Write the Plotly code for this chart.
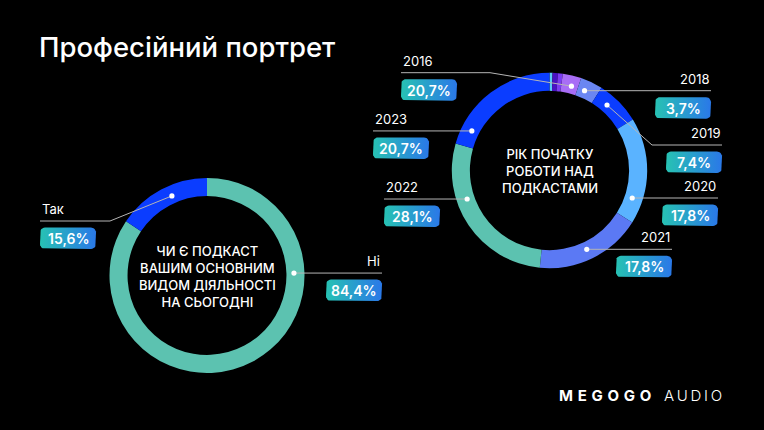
import plotly.graph_objects as go
import numpy as np

W, H = 764, 430

# чи є подкаст основним видом діяльності
main_labels = ["Ні", "Так"]
main_values = [84.4, 15.6]
main_pct = ["84,4%", "15,6%"]
main_colors = ["#5cc2b0", "#0b3dff"]

# рік початку роботи над подкастами (перші три сегменти без підпису)
start_labels = ["2014", "2015", "2017", "2016", "2018", "2019", "2020", "2021", "2022", "2023"]
start_values = [0.5, 0.9, 0.8, 3.1, 3.7, 7.4, 17.8, 17.8, 28.1, 20.7]
start_pct = ["", "", "", "20,7%", "3,7%", "7,4%", "17,8%", "17,8%", "28,1%", "20,7%"]
start_colors = ["#5ccaf7", "#4a12c4", "#7b3cf2", "#a86df6", "#6a86f2",
                "#0b3dff", "#5ab3ff", "#5b79f4", "#5cc2b0", "#0b3dff"]

HOLE = 0.815
left_c, left_r = (207, 275.5), 97.5
right_c, right_r = (549.5, 170.5), 97.7

# callouts: index, dot angle (deg from 12 o'clock), line end x, side, elbow
left_callouts = [
    (1, 336.2, 40, "left", (110, 221)),
    (0, 88.4, 382, "right", None),
]
right_callouts = [
    (3, 14.6, 401, "left", (490, 72.7)),
    (4, 23.7, 711, "right", None),
    (5, 41.3, 722, "right", (652, 145)),
    (6, 108.4, 718, "right", None),
    (7, 154.7, 672, "right", None),
    (8, 250.9, 384, "left", None),
    (9, 297.0, 373, "left", None),
]


def dom(c, r):
    return dict(x=[(c[0] - r) / W, (c[0] + r) / W],
                y=[1 - (c[1] + r) / H, 1 - (c[1] - r) / H])


def rounded_rect(x0, y0, x1, y1, r=5, n=7):
    xs, ys = [], []
    for cx, cy, a0, a1 in [(x1 - r, y0 + r, -90, 0), (x1 - r, y1 - r, 0, 90),
                           (x0 + r, y1 - r, 90, 180), (x0 + r, y0 + r, 180, 270)]:
        for a in np.linspace(a0, a1, n):
            xs.append(cx + r * np.cos(np.radians(a)))
            ys.append(cy + r * np.sin(np.radians(a)))
    xs.append(xs[0])
    ys.append(ys[0])
    return xs, ys


fig = go.Figure()

fig.add_trace(go.Pie(labels=main_labels, values=main_values, hole=HOLE, sort=False,
                     direction="clockwise", marker=dict(colors=main_colors, line=dict(width=0)),
                     textinfo="none", domain=dom(left_c, left_r), showlegend=False,
                     hoverinfo="label+percent"))
fig.add_trace(go.Pie(labels=start_labels, values=start_values, hole=HOLE, sort=False,
                     direction="clockwise", marker=dict(colors=start_colors, line=dict(width=0)),
                     textinfo="none", domain=dom(right_c, right_r), showlegend=False,
                     hoverinfo="label+percent"))

shapes, annots = [], []
font = "Inter, Noto Sans, sans-serif"


def add_callouts(callouts, labels, pct, c, r):
    rm = r * (1 + HOLE) / 2 - 1.5
    for i, ang, xe, side, elbow in callouts:
        dx = c[0] + rm * np.sin(np.radians(ang))
        dy = c[1] - rm * np.cos(np.radians(ang))
        ly = elbow[1] if elbow else dy
        path = f"M{xe},{ly}"
        if elbow:
            path += f" L{elbow[0]},{elbow[1]}"
        path += f" L{dx},{dy}"
        shapes.append(dict(type="path", path=path, xref="x", yref="y",
                           line=dict(color="#b5b5b5", width=1), layer="above"))
        shapes.append(dict(type="circle", xref="x", yref="y", x0=dx - 2.6, x1=dx + 2.6,
                           y0=dy - 2.6, y1=dy + 2.6, fillcolor="white",
                           line=dict(width=0), layer="above"))
        annots.append(dict(x=xe, y=ly - 12, xref="x", yref="y", text=labels[i],
                           xanchor=side, yanchor="middle", showarrow=False,
                           font=dict(family=font, size=13, color="white")))
        bw = 56
        bx0 = xe if side == "left" else xe - bw
        bx, by = rounded_rect(bx0, ly + 6.5, bx0 + bw, ly + 28)
        fig.add_trace(go.Scatter(x=bx, y=by, mode="lines", fill="toself", line=dict(width=0),
                                 fillgradient=dict(type="horizontal",
                                                   colorscale=[[0, "#27c2b3"], [1, "#2a78e8"]]),
                                 hoverinfo="skip", showlegend=False))
        annots.append(dict(x=bx0 + bw / 2, y=ly + 17.5, xref="x", yref="y", text=pct[i],
                           showarrow=False, xanchor="center", yanchor="middle",
                           font=dict(family=font, size=14, color="white", weight=600)))


add_callouts(left_callouts, main_labels, main_pct, left_c, left_r)
add_callouts(right_callouts, start_labels, start_pct, right_c, right_r)

annots.append(dict(x=left_c[0], y=left_c[1] + 1, xref="x", yref="y", showarrow=False,
                   text="ЧИ Є ПОДКАСТ<br>ВАШИМ ОСНОВНИМ<br>ВИДОМ ДІЯЛЬНОСТІ<br>НА СЬОГОДНІ",
                   font=dict(family=font, size=13, color="white", weight=500)))
annots.append(dict(x=right_c[0], y=right_c[1], xref="x", yref="y", showarrow=False,
                   text="РІК ПОЧАТКУ<br>РОБОТИ НАД<br>ПОДКАСТАМИ",
                   font=dict(family=font, size=13, color="white", weight=500)))
annots.append(dict(x=37, y=47, xref="x", yref="y", showarrow=False, xanchor="left",
                   text="Професійний портрет",
                   font=dict(family=font, size=27.5, color="white", weight=500)))
sp = "\u2009\u2009"
annots.append(dict(x=557, y=395, xref="x", yref="y", showarrow=False, xanchor="left",
                   text=sp.join("MEGOGO"),
                   font=dict(family=font, size=15, color="white", weight=700)))
annots.append(dict(x=662, y=395, xref="x", yref="y", showarrow=False, xanchor="left",
                   text="\u2009".join("AUDIO"),
                   font=dict(family=font, size=15, color="white", weight=300)))

fig.update_layout(
    width=W, height=H, margin=dict(l=0, r=0, t=0, b=0),
    paper_bgcolor="black", plot_bgcolor="black",
    xaxis=dict(range=[0, W], visible=False, fixedrange=True),
    yaxis=dict(range=[H, 0], visible=False, fixedrange=True),
    shapes=shapes, annotations=annots,
)

fig.write_html("out.html", config={"displayModeBar": False},
               post_script="document.body.style.margin='0';document.body.style.background='black';")
